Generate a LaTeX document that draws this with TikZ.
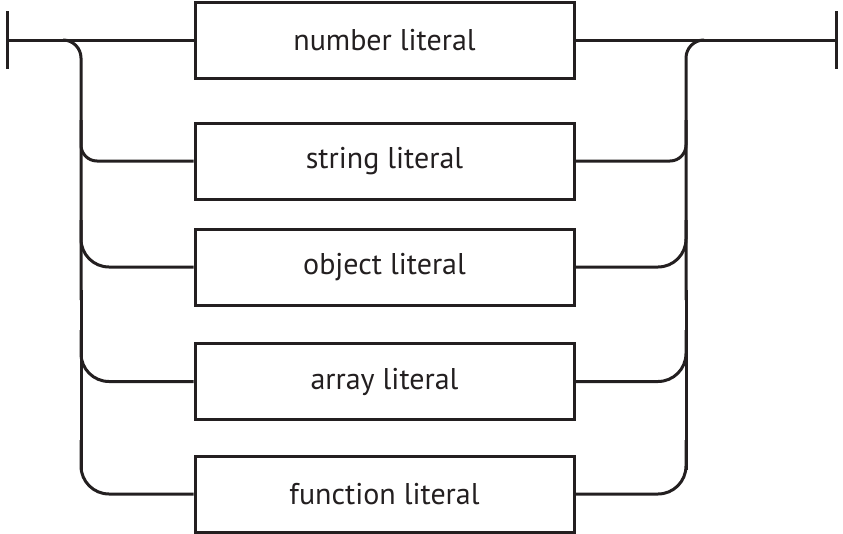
\documentclass[tikz,border=0pt]{standalone}
\usepackage{fontspec}
\setmainfont{PT Sans}
\definecolor{ink}{RGB}{35,31,32}
\begin{document}
\begin{tikzpicture}[x=0.75pt,y=-0.75pt,
  rail/.style={line width=2.25pt,draw=ink},
  litbox/.style={draw=ink,line width=2.25pt,minimum width=284.25pt,minimum height=57pt,inner sep=0pt,font=\fontsize{22.5}{26}\selectfont,text=ink},
  rcA/.style={rail,rounded corners=13.5pt},
  rcB/.style={rail,rounded corners=12pt},
  rcC/.style={rail,rounded corners=21pt}]
\useasboundingbox (0,0) rectangle (843,533);
\node[litbox] (b1) at (384.5,40) {number literal};
\node[litbox] (b2) at (384.5,161) {string literal};
\node[litbox] (b3) at (384.5,267) {object literal};
\node[litbox] (b4) at (384.5,381.5) {array literal};
\node[litbox] (b5) at (384.5,494) {function literal};
\coordinate (start) at (7,40);
\coordinate (finish) at (836,40);
\draw[rail] (7,11) -- (7,69);
\draw[rail] (836,11) -- (836,69);
\draw[rail] (start) -- (b1.west);
\draw[rail] (b1.east) -- (finish);
% left spine
\draw[rcA] (63,40) -| (81,300);
\draw[rail] (81,290) -- (81,470);
\draw[rcB] (81,120) |- (b2.west);
\draw[rcC] (81,220) |- (b3.west);
\draw[rcC] (81,330) |- (b4.west);
\draw[rcC] (81,440) |- (b5.west);
% right spine
\draw[rcA] (703,40) -| (686,300);
\draw[rail] (686,290) -- (686,470);
\draw[rcB] (b2.east) -| (686,120);
\draw[rcC] (b3.east) -| (686,220);
\draw[rcC] (b4.east) -| (686,330);
\draw[rcC] (b5.east) -| (686,440);
\end{tikzpicture}
\end{document}
